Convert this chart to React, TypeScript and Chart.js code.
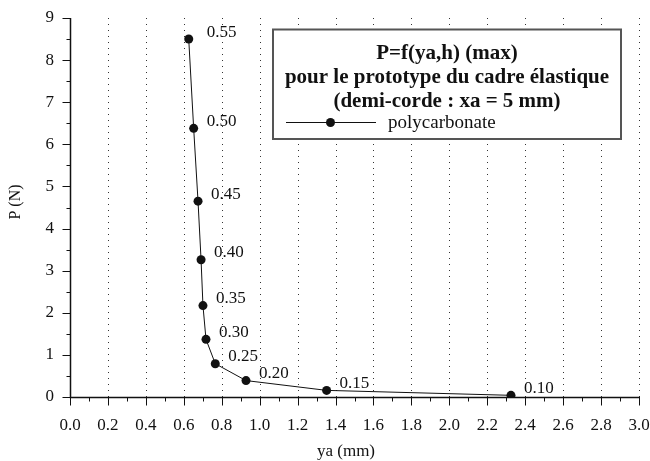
import React, { useEffect, useRef } from "react";
import { Chart, registerables } from "chart.js";

Chart.register(...registerables);

const yaValues = [0.626, 0.652, 0.675, 0.691, 0.701, 0.717, 0.766, 0.928, 1.353, 2.325];
const pValues = [8.5, 6.38, 4.65, 3.26, 2.17, 1.37, 0.79, 0.39, 0.157, 0.04];
const hLabels = ["0.55", "0.50", "0.45", "0.40", "0.35", "0.30", "0.25", "0.20", "0.15", "0.10"];
const titleLines = ["P=f(ya,h) (max)", "pour le prototype du cadre élastique", "(demi-corde : xa = 5 mm)"];
const seriesName = "polycarbonate";
const xTitle = "ya (mm)";
const yTitle = "P (N)";

const FONT = '"Liberation Serif", "Times New Roman", serif';

const customPlugin = {
  id: "custom",
  beforeDatasetsDraw(chart: any) {
    const ctx = chart.ctx;
    const xs = chart.scales.x;
    const ys = chart.scales.y;
    const area = chart.chartArea;
    ctx.save();
    // dotted vertical grid
    ctx.strokeStyle = "#333";
    ctx.lineWidth = 1;
    ctx.setLineDash([1, 5]);
    for (let i = 1; i <= 15; i++) {
      const x = Math.round(xs.getPixelForValue(i * 0.2)) + 0.5;
      ctx.beginPath();
      ctx.moveTo(x, area.bottom);
      ctx.lineTo(x, area.top);
      ctx.stroke();
    }
    ctx.setLineDash([]);
    ctx.strokeStyle = "#111";
    // axes
    const x0 = Math.round(area.left) + 0.5;
    const y0 = Math.round(area.bottom) + 0.5;
    ctx.lineWidth = 1.5;
    ctx.beginPath();
    ctx.moveTo(x0, area.top);
    ctx.lineTo(x0, y0);
    ctx.lineTo(area.right + 1, y0);
    ctx.stroke();
    ctx.lineWidth = 1;
    // x ticks
    for (let i = 0; i <= 30; i++) {
      const x = Math.round(xs.getPixelForValue(i * 0.1)) + 0.5;
      const len = i % 2 === 0 ? 8 : 4;
      ctx.beginPath();
      ctx.moveTo(x, y0);
      ctx.lineTo(x, y0 + len);
      ctx.stroke();
    }
    // y ticks
    for (let i = 0; i <= 18; i++) {
      const y = Math.round(ys.getPixelForValue(i * 0.5)) + 0.5;
      const len = i % 2 === 0 ? 8 : 4;
      ctx.beginPath();
      ctx.moveTo(x0, y);
      ctx.lineTo(x0 - len, y);
      ctx.stroke();
    }
    ctx.restore();
  },
  afterDatasetsDraw(chart: any) {
    const ctx = chart.ctx;
    const xs = chart.scales.x;
    const ys = chart.scales.y;
    ctx.save();
    // point labels
    ctx.fillStyle = "#111";
    ctx.font = `17px ${FONT}`;
    ctx.textBaseline = "middle";
    ctx.textAlign = "left";
    for (let i = 0; i < yaValues.length; i++) {
      const px = xs.getPixelForValue(yaValues[i]);
      const py = ys.getPixelForValue(pValues[i]);
      const dx = i === 0 ? 18 : 13;
      ctx.fillText(hLabels[i], px + dx, py - 7);
    }
    // legend box
    const L = 273, T = 29.5, R = 621, B = 139;
    ctx.fillStyle = "#fff";
    ctx.fillRect(L, T, R - L, B - T);
    ctx.strokeStyle = "#555";
    ctx.lineWidth = 2;
    ctx.strokeRect(L, T, R - L, B - T);
    ctx.fillStyle = "#111";
    ctx.font = `bold 21px ${FONT}`;
    ctx.textAlign = "center";
    ctx.textBaseline = "alphabetic";
    const cx = (L + R) / 2;
    const baselines = [58.5, 83, 106.5];
    titleLines.forEach((t, i) => ctx.fillText(t, cx, baselines[i]));
    // legend item
    ctx.strokeStyle = "#111";
    ctx.lineWidth = 1;
    ctx.beginPath();
    ctx.moveTo(286, 122.5);
    ctx.lineTo(376, 122.5);
    ctx.stroke();
    ctx.beginPath();
    ctx.arc(330.5, 122.5, 4.5, 0, Math.PI * 2);
    ctx.fill();
    ctx.font = `19px ${FONT}`;
    ctx.textAlign = "left";
    ctx.textBaseline = "alphabetic";
    ctx.fillText(seriesName, 388, 128);
    // axis titles
    ctx.font = `17px ${FONT}`;
    ctx.textAlign = "center";
    ctx.textBaseline = "middle";
    ctx.fillText(xTitle, 346, 452);
    ctx.save();
    ctx.translate(16, 202);
    ctx.rotate(-Math.PI / 2);
    ctx.font = `16px ${FONT}`;
    ctx.fillText(yTitle, 0, 0);
    ctx.restore();
    ctx.restore();
  },
};

export default function App() {
  const ref = useRef<HTMLCanvasElement | null>(null);
  useEffect(() => {
    if (!ref.current) return;
    const chart = new Chart(ref.current, {
      type: "scatter",
      data: {
        datasets: [
          {
            label: seriesName,
            data: yaValues.map((x, i) => ({ x, y: pValues[i] })),
            showLine: true,
            borderColor: "#111",
            backgroundColor: "#111",
            borderWidth: 1,
            pointRadius: 4.5,
            pointHoverRadius: 4.5,
            pointBackgroundColor: "#111",
            pointBorderWidth: 0,
          },
        ],
      },
      options: {
        responsive: false,
        animation: false,
        devicePixelRatio: 1,
        layout: { padding: { left: 0, top: 18, right: 11, bottom: 0 } },
        plugins: { legend: { display: false }, tooltip: { enabled: false } },
        scales: {
          x: {
            type: "linear",
            min: 0,
            max: 3,
            afterFit: (s: any) => {
              s.height = 64;
              s.paddingLeft = 0;
              s.paddingRight = 0;
            },
            grid: { display: false, drawTicks: false },
            border: { display: false },
            ticks: {
              stepSize: 0.2,
              padding: 18,
              color: "#111",
              font: { family: FONT, size: 17 },
              maxRotation: 0,
              autoSkip: false,
              callback: (v: any) => Number(v).toFixed(1),
            },
          },
          y: {
            type: "linear",
            min: 0,
            max: 9,
            afterFit: (s: any) => {
              s.width = 70;
              s.paddingTop = 0;
              s.paddingBottom = 0;
            },
            grid: { display: false, drawTicks: false },
            border: { display: false },
            ticks: {
              stepSize: 1,
              padding: 16,
              color: "#111",
              font: { family: FONT, size: 17 },
              callback: (v: any) => String(v),
            },
          },
        },
      },
      plugins: [customPlugin],
    });
    return () => chart.destroy();
  }, []);
  return (
    <div style={{ position: "absolute", left: 0, top: 0, width: 650, height: 461, background: "#fff" }}>
      <canvas ref={ref} width={650} height={461} />
    </div>
  );
}
